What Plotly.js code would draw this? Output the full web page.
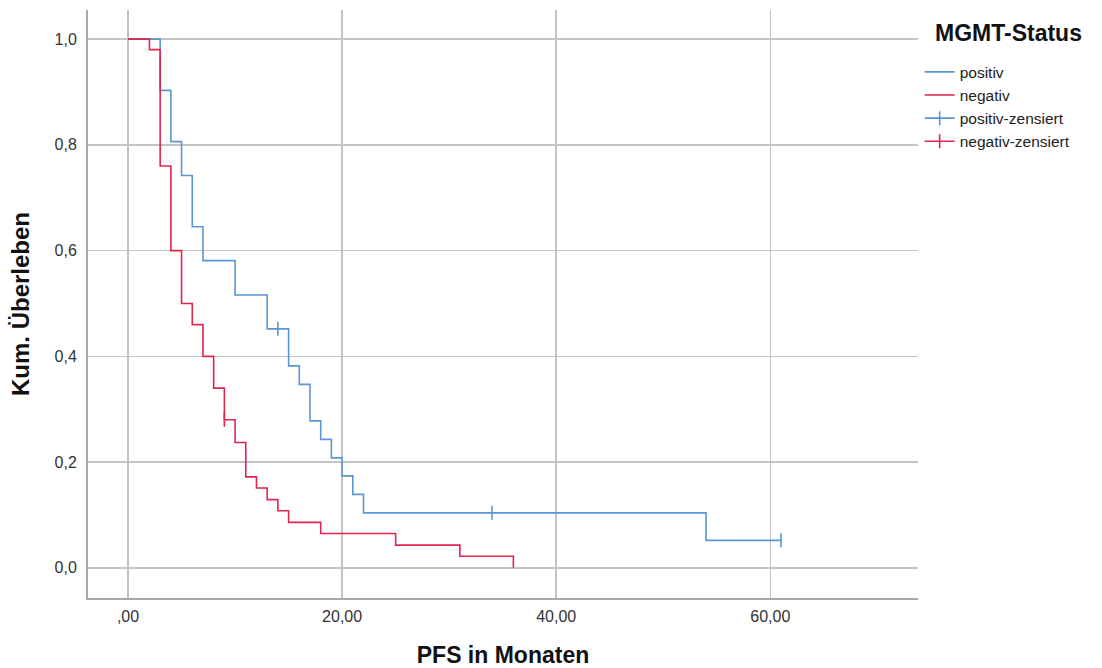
<!DOCTYPE html>
<html>
<head>
<meta charset="utf-8">
<script src="https://cdn.plot.ly/plotly-3.0.1.min.js"></script>
<style>html,body{margin:0;padding:0;background:#fff;}#chart{width:1102px;height:668px;}</style>
</head>
<body>
<div id="chart"></div>
<script>
// Kaplan-Meier data
const posTime = [0, 3, 4, 5, 6, 7, 10, 13, 15, 16, 17, 18, 19, 20, 21, 22, 54, 61];
const posSurv = [1.0, 0.903, 0.806, 0.742, 0.645, 0.581, 0.516, 0.452, 0.382, 0.347, 0.278, 0.243, 0.208, 0.174, 0.139, 0.104, 0.052, 0.052];
const negTime = [0, 2, 3, 4, 5, 6, 7, 8, 9, 10, 11, 12, 13, 14, 15, 18, 25, 31, 36];
const negSurv = [1.0, 0.98, 0.76, 0.60, 0.50, 0.46, 0.40, 0.34, 0.28, 0.237, 0.172, 0.151, 0.129, 0.108, 0.086, 0.065, 0.043, 0.022, 0.0];
const posCensTime = [14, 34, 61];
const posCensSurv = [0.452, 0.104, 0.052];
const negCensTime = [9];
const negCensSurv = [0.28];
const xTickVals = [0, 20, 40, 60];
const xTickText = [",00", "20,00", "40,00", "60,00"];
const yTickVals = [0, 0.2, 0.4, 0.6, 0.8, 1.0];
const yTickText = ["0,0", "0,2", "0,4", "0,6", "0,8", "1,0"];

const BLUE = "#5b95d6";
const RED = "#e0264c";
const FONT = "Liberation Sans, Arial, sans-serif";

// insert gaps so censor traces draw no connecting lines but legend shows line+tick
function gapped(arr) {
  const out = [];
  arr.forEach((v, i) => { if (i) out.push(null); out.push(v); });
  return out;
}

const traces = [
  {x: posTime, y: posSurv, name: "positiv", mode: "lines", line: {shape: "hv", color: BLUE, width: 1.6}},
  {x: negTime, y: negSurv, name: "negativ", mode: "lines", line: {shape: "hv", color: RED, width: 1.6}},
  {x: gapped(posCensTime), y: gapped(posCensSurv), name: "positiv-zensiert", mode: "lines+markers", connectgaps: false,
   line: {color: BLUE, width: 1.6}, marker: {symbol: "line-ns-open", size: 10, color: BLUE, line: {color: BLUE, width: 1.6}}},
  {x: gapped(negCensTime), y: gapped(negCensSurv), name: "negativ-zensiert", mode: "lines+markers", connectgaps: false,
   line: {color: RED, width: 1.6}, marker: {symbol: "line-ns-open", size: 10, color: RED, line: {color: RED, width: 1.6}}}
];

const layout = {
  width: 1102, height: 668,
  margin: {l: 88, r: 184, t: 10, b: 70, pad: 0},
  paper_bgcolor: "#fff", plot_bgcolor: "#fff",
  font: {family: FONT, color: "#222", size: 16},
  hovermode: false,
  xaxis: {
    range: [-3.74, 73.8], tickvals: xTickVals, ticktext: xTickText,
    showgrid: true, gridcolor: "#c4c4c4", gridwidth: 1.5, zeroline: false,
    showline: true, linecolor: "#a8a8a8", linewidth: 2, ticks: "",
    tickfont: {size: 16, color: "#333"}, ticklabelstandoff: 3,
    title: {text: "<b>PFS in Monaten</b>", font: {size: 23, color: "#111"}, standoff: 31}
  },
  yaxis: {
    range: [-0.057, 1.055], tickvals: yTickVals, ticktext: yTickText,
    showgrid: true, gridcolor: "#c4c4c4", gridwidth: 1.5, zeroline: false,
    showline: true, linecolor: "#a8a8a8", linewidth: 2, ticks: "",
    tickfont: {size: 16, color: "#333"}, ticklabelstandoff: 6,
    title: {text: "<b>Kum. Überleben</b>", font: {size: 24, color: "#111"}, standoff: 18}
  },
  showlegend: true,
  legend: {
    x: 1.002, y: 0.923, xanchor: "left", yanchor: "top",
    font: {size: 15.5, color: "#222"},
    itemwidth: 30, tracegroupgap: 0, bgcolor: "rgba(0,0,0,0)"
  },
  annotations: [{
    text: "<b>MGMT-Status</b>", xref: "paper", yref: "paper",
    x: (933 - 88) / 830, y: (598 - 33) / 588, xanchor: "left", yanchor: "middle",
    showarrow: false, font: {family: FONT, size: 23, color: "#111"}
  }]
};

Plotly.newPlot("chart", traces, layout, {displayModeBar: false, staticPlot: true});
</script>
</body>
</html>
